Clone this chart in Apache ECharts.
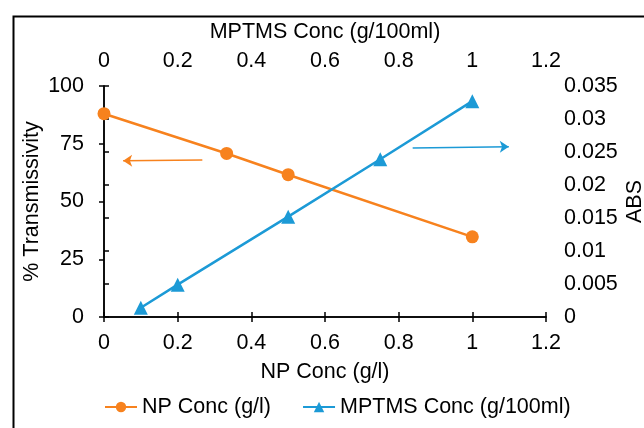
<!DOCTYPE html>
<html>
<head>
<meta charset="utf-8">
<script src="https://cdn.jsdelivr.net/npm/echarts@6/dist/echarts.min.js"></script>
<style>html,body{margin:0;padding:0;background:#fff;}#c{width:644px;height:428px;}</style>
</head>
<body>
<div id="c"></div>
<script>
// Data
var npX = [0, 0.333, 0.5, 1];
var npTrans = [88, 70.8, 61.6, 34.7];
var mptmsX = [0.1, 0.2, 0.5, 0.75, 1];
var mptmsAbs = [0.0014, 0.0049, 0.0152, 0.0239, 0.0327];
var xTicks = ['0', '0.2', '0.4', '0.6', '0.8', '1', '1.2'];
// Annotation arrows [start, end] in data units
var npArrow = [[0.267, 68.0], [0.052, 67.6]];
var mptmsArrow = [[0.838, 0.0256], [1.099, 0.0258]];

var ORANGE = '#F7821E', BLUE = '#1C9AD6';
var FONT = 'Liberation Sans, Arial, sans-serif';
var txt = {color: '#000', fontFamily: FONT, fontSize: 21.5};
var axLine = {show: true, lineStyle: {color: '#000', width: 1.5}};
var axTick = {show: true, length: 5, lineStyle: {color: '#000', width: 1.5}};

function pairs(xs, ys) { return xs.map(function (x, i) { return [x, ys[i]]; }); }

var chart = echarts.init(document.getElementById('c'), null, {renderer: 'canvas'});
chart.setOption({
  animation: false,
  backgroundColor: '#fff',
  graphic: [{
    type: 'rect', left: 11, top: 14, shape: {width: 700, height: 500},
    style: {fill: 'none', stroke: '#000', lineWidth: 2}, silent: true, z: -1
  }],
  grid: {left: 104, right: 98, top: 86, bottom: 111, containLabel: false, outerBoundsMode: 'none'},
  legend: {
    top: 391, left: 99,
    itemWidth: 32, itemHeight: 13, itemGap: 31,
    textStyle: txt,
    data: ['NP Conc (g/l)', 'MPTMS Conc (g/100ml)']
  },
  xAxis: [{
    type: 'value', position: 'bottom', min: 0, max: 1.2, interval: 0.2,
    name: 'NP Conc (g/l)', nameLocation: 'middle', nameGap: 44, nameTextStyle: txt, nameMoveOverlap: false,
    axisLine: axLine, axisTick: axTick, splitLine: {show: false},
    axisLabel: Object.assign({margin: 15, formatter: function (v, i) { return xTicks[i]; }}, txt)
  }, {
    type: 'value', position: 'top', min: 0, max: 1.2, interval: 0.2,
    name: 'MPTMS Conc (g/100ml)', nameLocation: 'middle', nameGap: 43, nameTextStyle: txt, nameMoveOverlap: false,
    axisLine: axLine, axisTick: axTick, splitLine: {show: false},
    axisLabel: Object.assign({margin: 14, formatter: function (v, i) { return xTicks[i]; }}, txt)
  }],
  yAxis: [{
    type: 'value', position: 'left', min: 0, max: 100, interval: 25,
    name: '% Transmissivity', nameLocation: 'middle', nameGap: 61, nameRotate: 90, nameTextStyle: txt, nameMoveOverlap: false,
    axisLine: axLine, axisTick: axTick, splitLine: {show: false},
    axisLabel: Object.assign({margin: 20}, txt)
  }, {
    type: 'value', position: 'right', min: 0, max: 0.035, interval: 0.005,
    name: 'ABS', nameLocation: 'middle', nameGap: 78, nameRotate: 90, nameTextStyle: txt, nameMoveOverlap: false,
    axisLine: axLine, axisTick: axTick, splitLine: {show: false},
    axisLabel: Object.assign({margin: 18}, txt)
  }],
  series: [{
    name: 'NP Conc (g/l)', type: 'line', xAxisIndex: 0, yAxisIndex: 0,
    data: pairs(npX, npTrans),
    symbol: 'circle', symbolSize: 13,
    lineStyle: {color: ORANGE, width: 2.5}, itemStyle: {color: ORANGE},
    markLine: {
      silent: true, symbol: ['none', 'arrow'], symbolSize: 9,
      label: {show: false},
      lineStyle: {color: ORANGE, width: 1.5, type: 'solid'},
      data: [[{coord: npArrow[0]}, {coord: npArrow[1]}]]
    }
  }, {
    name: 'MPTMS Conc (g/100ml)', type: 'line', xAxisIndex: 1, yAxisIndex: 1,
    data: pairs(mptmsX, mptmsAbs),
    symbol: 'triangle', symbolSize: 14,
    lineStyle: {color: BLUE, width: 2.5}, itemStyle: {color: BLUE},
    markLine: {
      silent: true, symbol: ['none', 'arrow'], symbolSize: 9,
      label: {show: false},
      lineStyle: {color: BLUE, width: 1.5, type: 'solid'},
      data: [[{coord: mptmsArrow[0]}, {coord: mptmsArrow[1]}]]
    }
  }]
});
</script>
</body>
</html>
